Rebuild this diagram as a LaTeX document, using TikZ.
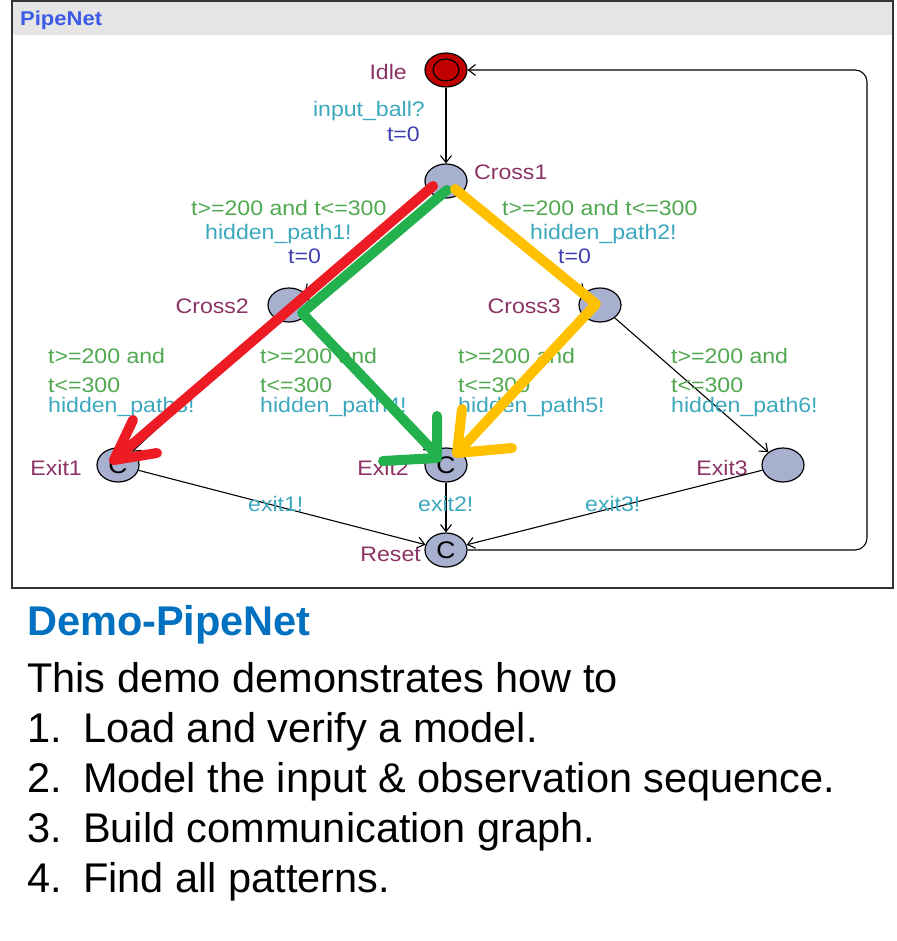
\documentclass[tikz,border=0pt]{standalone}
\usepackage{fontspec}
\setmainfont{Liberation Sans}
\newfontfamily\uppfont[FakeStretch=1.1]{Liberation Sans}
\usetikzlibrary{shapes.geometric,arrows.meta}
\definecolor{locfill}{RGB}{168,176,208}
\definecolor{idlered}{RGB}{192,0,0}
\definecolor{locname}{RGB}{140,50,100}
\definecolor{guardc}{RGB}{80,168,80}
\definecolor{syncc}{RGB}{60,168,190}
\definecolor{assignc}{RGB}{64,64,176}
\definecolor{titleblue}{RGB}{0,112,192}
\definecolor{headblue}{RGB}{60,90,230}
\definecolor{penred}{RGB}{237,28,36}
\definecolor{pengreen}{RGB}{34,177,76}
\definecolor{penyellow}{RGB}{255,192,0}
\tikzset{
  loc/.style={ellipse,draw,line width=1.2pt,fill=locfill,minimum width=42pt,minimum height=34pt,inner sep=0pt,font=\uppfont\fontsize{24}{28}\selectfont},
  lbl/.style={inner sep=0pt,font=\uppfont\fontsize{21}{25}\selectfont},
  lname/.style={lbl,anchor=base east,text=locname},
  guard/.style={lbl,anchor=base west,text=guardc},
  sync/.style={lbl,anchor=base west,text=syncc},
  assign/.style={lbl,anchor=base west,text=assignc},
  trans/.style={->,line width=1.1pt},
  pen/.style={line width=10pt,line cap=round,line join=round},
  big/.style={inner sep=0pt,anchor=base west,font=\fontsize{41.5}{50}\selectfont}
}
\begin{document}
\begin{tikzpicture}[x=1pt,y=-1pt,>={Straight Barb[length=7pt,width=11pt]}]
    \useasboundingbox (0,0) rectangle (896,941);
    \fill[black!10] (13,2) rectangle (892,35);
    \draw[line width=1.5pt,black!80] (12,1) rectangle (893,588);
    \node[lbl,anchor=base west,text=headblue,font=\uppfont\bfseries\fontsize{20}{24}\selectfont] (title) at (20,26) {PipeNet};

    \node[loc,fill=idlered] (idle) at (446,70) {};
    \draw[line width=1.2pt] (idle.center) ellipse [x radius=13, y radius=11];
    \node[loc] (cross1) at (446,181) {};
    \node[loc] (cross2) at (289,305) {};
    \node[loc] (cross3) at (600,305) {};
    \node[loc] (exit1) at (118,465) {C};
    \node[loc] (exit2) at (446,465) {C};
    \node[loc] (exit3) at (783,465) {};
    \node[loc] (reset) at (446,550) {C};
    \coordinate (back1) at (867,550);
    \coordinate (back2) at (867,70);

    \node[lname] (nidle) at (407,80) {Idle};
    \node[lname,anchor=base west] (ncross1) at (474,180) {Cross1};
    \node[lname] (ncross2) at (249,313) {Cross2};
    \node[lname] (ncross3) at (561,313) {Cross3};
    \node[lname] (nexit1) at (82,475) {Exit1};
    \node[lname] (nexit2) at (409,475) {Exit2};
    \node[lname] (nexit3) at (748,475) {Exit3};
    \node[lname] (nreset) at (421,561) {Reset};

    \draw[trans] (idle) -- (cross1);
    \draw[trans] (cross1) -- (cross2);
    \draw[trans] (cross1) -- (cross3);
    \draw[trans] (cross2) -- (exit1);
    \draw[trans] (cross2) -- (exit2);
    \draw[trans] (cross3) -- (exit2);
    \draw[trans] (cross3) -- (exit3);
    \draw[trans] (exit1) -- (reset);
    \draw[trans] (exit2) -- (reset);
    \draw[trans] (exit3) -- (reset);
    \draw[trans,rounded corners=12pt] (reset.east) -- (back1) -- (back2) -- (idle.east);

    \node[sync,anchor=base east] (s0) at (425,117) {input\_ball?};
    \node[assign,anchor=base east] (a0) at (420,142) {t=0};
    \node[guard] (g1) at (191,215) {t>=200 and t<=300};
    \node[sync] (s1) at (205,240) {hidden\_path1!};
    \node[assign] (a1) at (288,263) {t=0};
    \node[guard] (g2) at (502,215) {t>=200 and t<=300};
    \node[sync] (s2) at (530,240) {hidden\_path2!};
    \node[assign] (a2) at (558,263) {t=0};
    \foreach \x/\i in {48/3,260/4,458/5,671/6}{
      \node[guard] (ga\i) at (\x,363) {t>=200 and};
      \node[guard] (gb\i) at (\x,392) {t<=300};
      \node[sync] (s\i) at (\x,412) {hidden\_path\i!};
    }
    \node[sync] (e1) at (248,511) {exit1!};
    \node[sync] (e2) at (418,511) {exit2!};
    \node[sync] (e3) at (585,511) {exit3!};

    \draw[pen,penred] (433,186) -- (114,460);
    \draw[pen,penred] (133,420) -- (114,460) -- (157,453);
    \draw[pen,pengreen] (447,190) -- (302,313) -- (437,455);
    \draw[pen,pengreen] (437,416) -- (437,458) -- (383,461);
    \draw[pen,penyellow] (455,189) -- (596,304) -- (457,453);
    \draw[pen,penyellow] (462,409) -- (457,453) -- (512,448);

    \node[big,text=titleblue,font=\bfseries\fontsize{41.5}{50}\selectfont] (head) at (27,635) {Demo-PipeNet};
    \node[big] (intro) at (27,692) {This demo demonstrates how to};
    \foreach \n/\t [count=\k] in {1/Load and verify a model.,2/Model the input \& observation sequence.,3/Build communication graph.,4/Find all patterns.}{
      \node[big] (num\k) at (27,692+50*\k) {\n.};
      \node[big] (item\k) at (83,692+50*\k) {\t};
    }
\end{tikzpicture}
\end{document}
